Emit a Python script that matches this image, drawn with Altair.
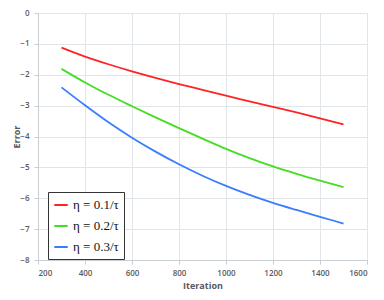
import altair as alt
import pandas as pd

iterations = [300, 400, 500, 600, 700, 800, 900, 1000, 1100, 1200, 1300, 1400, 1500]
err_01 = [-1.12, -1.41, -1.66, -1.89, -2.10, -2.30, -2.49, -2.68, -2.86, -3.04, -3.22, -3.41, -3.61]
err_02 = [-1.81, -2.25, -2.65, -3.02, -3.38, -3.73, -4.07, -4.40, -4.70, -4.97, -5.21, -5.43, -5.64]
err_03 = [-2.41, -2.99, -3.54, -4.04, -4.49, -4.90, -5.27, -5.60, -5.89, -6.15, -6.38, -6.60, -6.82]
series = ["η = 0.1/τ", "η = 0.2/τ", "η = 0.3/τ"]
colors = ["#ff2424", "#44dd22", "#3a7dff"]
x_ticks = [200, 400, 600, 800, 1000, 1200, 1400, 1600]
y_ticks = [0, -1, -2, -3, -4, -5, -6, -7, -8]

rows = []
for name, vals in zip(series, [err_01, err_02, err_03]):
    for it, v in zip(iterations, vals):
        rows.append({"Iteration": it, "Error": v, "series": name})
df = pd.DataFrame(rows)

label_color = "#595959"
grid_color = "#dfe5e8"

chart = (
    alt.Chart(df)
    .mark_line(strokeWidth=1.8, interpolate="monotone")
    .encode(
        x=alt.X(
            "Iteration:Q",
            scale=alt.Scale(domain=[200, 1600], nice=False, zero=False),
            axis=alt.Axis(values=x_ticks, format="d", title="Iteration", titlePadding=4),
        ),
        y=alt.Y(
            "Error:Q",
            scale=alt.Scale(domain=[-8, 0], nice=False),
            axis=alt.Axis(
                values=y_ticks,
                format="d",
                title="Error",
                titleX=-22,
                titleBaseline="middle",
            ),
        ),
        color=alt.Color(
            "series:N",
            scale=alt.Scale(domain=series, range=colors),
            legend=alt.Legend(
                title=None,
                orient="none",
                legendX=10,
                legendY=179,
                fillColor="white",
                strokeColor="#333333",
                padding=5,
                symbolType="stroke",
                symbolStrokeWidth=2,
                symbolSize=180,
                labelFont="Liberation Serif",
                labelFontSize=13,
                labelColor="#111111",
                rowPadding=6,
                cornerRadius=0,
            ),
        ),
    )
    .properties(
        width=329,
        height=247,
        autosize=alt.AutoSizeParams(type="none"),
        padding={"left": 30, "top": 5, "right": 9, "bottom": 32},
    )
    .configure_view(stroke=None)
    .configure_axis(
        labelFont="Open Sans",
        labelFontSize=8,
        labelFontWeight=600,
        labelColor=label_color,
        titleFont="Open Sans",
        titleFontSize=9,
        titleFontWeight="bold",
        titleColor=label_color,
        gridColor=grid_color,
        gridWidth=1,
        domainColor="#c8d0d4",
        tickColor="#c8d0d4",
        tickSize=4,
        labelPadding=5,
    )
)

chart.save("out.html", embed_options={"renderer": "svg", "actions": False})
